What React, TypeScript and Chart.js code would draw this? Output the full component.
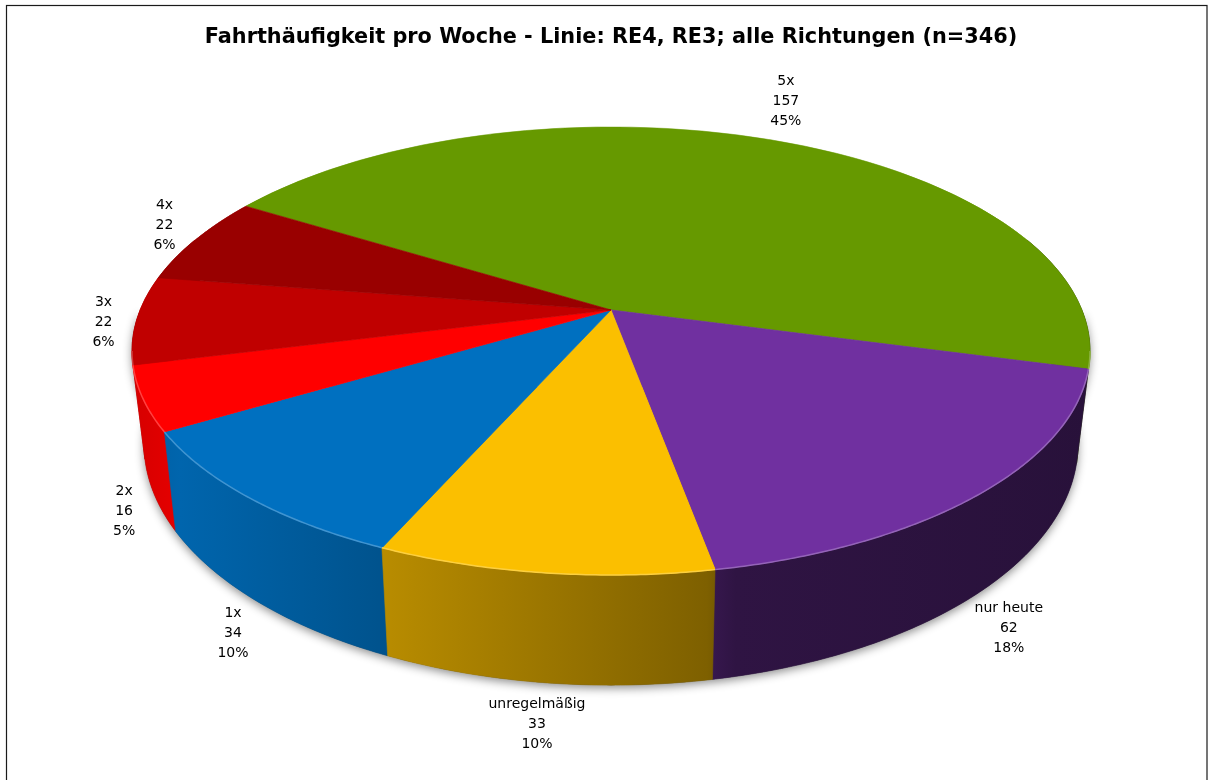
import React, { useEffect, useRef } from "react";
import { Chart, PieController, ArcElement, Title } from "chart.js";

Chart.register(PieController, ArcElement, Title);

const categories = ["5x", "nur heute", "unregelmäßig", "1x", "2x", "3x", "4x"];
const counts = [157, 62, 33, 34, 16, 22, 22];
const sliceColors = ["#669900", "#7030A0", "#FBBF00", "#0070C0", "#FF0000", "#C00000", "#990000"];
const chartTitle = "Fahrthäufigkeit pro Woche - Linie: RE4, RE3; alle Richtungen (n=346)";

// perspective projection of the pie plane (pixels)
const PA = 470.9; // horizontal half-size
const PB = 216.5; // vertical size
const PP = 0.183; // perspective strength
const PD = 90; // cylinder height
const PK = 0.025; // horizontal shrink of the base (vanishing)
const LABEL_GAP_X = 22;
const LABEL_GAP_Y = 12;
const LINE_H = 20;
// side-wall lighting: [relative x across the pie, brightness factor]
const wallStops: [number, number][] = [
  [0, 0.84], [0.05, 0.9], [0.27, 0.73], [0.6, 0.5], [0.63, 0.42], [1, 0.36],
];

function toRgb(hex: string) {
  const n = parseInt(hex.slice(1), 16);
  return [(n >> 16) & 255, (n >> 8) & 255, n & 255];
}
function shade(hex: string, f: number) {
  const [r, g, b] = toRgb(hex);
  return `rgb(${Math.round(r * f)},${Math.round(g * f)},${Math.round(b * f)})`;
}
function lighten(hex: string, f: number) {
  const [r, g, b] = toRgb(hex);
  return `rgb(${Math.round(r + (255 - r) * f)},${Math.round(g + (255 - g) * f)},${Math.round(b + (255 - b) * f)})`;
}

function projector(cx: number, cy: number) {
  return (u: number, v: number, drop = 0): [number, number] => {
    const w = 1 - PP * v;
    return [cx + ((PA * u) / w) * (1 - PK * drop), cy + (PB * v) / w + (drop * PD) / w];
  };
}

const pie3d = {
  id: "pie3d",
  beforeDraw(chart: any) {
    const ctx = chart.ctx;
    ctx.save();
    ctx.fillStyle = "#fff";
    ctx.fillRect(0, 0, chart.width, chart.height);
    ctx.strokeStyle = "#1a1a1a";
    ctx.lineWidth = 1.2;
    ctx.strokeRect(6.5, 5.5, 1200.5, 900);
    ctx.restore();
  },
  beforeDatasetsDraw(chart: any) {
    const ctx = chart.ctx;
    const arcs: any[] = chart.getDatasetMeta(0).data;
    if (!arcs.length) return false;
    const ex = arcs[0].x;
    const ey = arcs[0].y;
    const R = arcs[0].outerRadius;
    const cx = ex;
    const cy = ey;
    const proj = projector(cx, cy);
    const wallPath = (b0: number, b1: number) => {
      ctx.beginPath();
      const n = Math.max(2, Math.ceil((b1 - b0) / (Math.PI / 360)));
      for (let k = 0; k <= n; k++) {
        const a = b0 + ((b1 - b0) * k) / n;
        const [x, y] = proj(Math.cos(a), Math.sin(a));
        if (k === 0) ctx.moveTo(x, y);
        else ctx.lineTo(x, y);
      }
      for (let k = n; k >= 0; k--) {
        const a = b0 + ((b1 - b0) * k) / n;
        const [x, y] = proj(Math.cos(a), Math.sin(a), 1);
        ctx.lineTo(x, y);
      }
      ctx.closePath();
    };
    const lo = -0.35;
    const hi = Math.PI + 0.35;
    // soft shadow under the cylinder
    ctx.save();
    wallPath(0, Math.PI);
    ctx.shadowColor = "rgba(0,0,0,0.45)";
    ctx.shadowBlur = 10;
    ctx.shadowOffsetY = 3;
    ctx.fillStyle = "#444";
    ctx.fill();
    ctx.restore();
    // side walls, back to front
    const segs: { i: number; b0: number; b1: number }[] = [];
    arcs.forEach((arc, i) => {
      const b0 = Math.max(arc.startAngle, lo);
      const b1 = Math.min(arc.endAngle, hi);
      if (b1 > b0) segs.push({ i, b0, b1 });
    });
    segs.sort(
      (s1, s2) =>
        Math.abs((s2.b0 + s2.b1) / 2 - Math.PI / 2) - Math.abs((s1.b0 + s1.b1) / 2 - Math.PI / 2)
    );
    const half = PA / Math.sqrt(1 - PP * PP);
    segs.forEach(({ i, b0, b1 }) => {
      const grad = ctx.createLinearGradient(cx - half, 0, cx + half, 0);
      wallStops.forEach(([t, f]) => grad.addColorStop(t, shade(sliceColors[i], f)));
      ctx.save();
      wallPath(b0, b1);
      ctx.fillStyle = grad;
      ctx.fill();
      ctx.strokeStyle = grad;
      ctx.lineWidth = 0.6;
      ctx.stroke();
      ctx.restore();
    });
    // top faces: the library's arcs, drawn through thin bands of a perspective projection
    const yTop = Math.floor(cy - PB / (1 + PP)) - 2;
    const yBot = Math.ceil(cy + PB / (1 - PP)) + 2;
    for (let y = yTop; y < yBot; y++) {
      const eta = (y + 0.5 - cy) / PB;
      const vm = eta / (1 + PP * eta);
      const wm = 1 - PP * vm;
      const a = PA / (wm * R);
      const d = PB / (wm * wm * R);
      const e = cx - a * ex;
      const f = cy + (PB * vm) / wm - (PB * vm) / (wm * wm) - d * ey;
      ctx.save();
      ctx.beginPath();
      ctx.rect(0, y, chart.width, 1);
      ctx.clip();
      ctx.transform(a, 0, 0, d, e, f);
      arcs.forEach((arc) => arc.draw(ctx, chart.chartArea));
      ctx.restore();
    }
    // light highlight along the front rim
    const sil = Math.asin(PP);
    arcs.forEach((arc, i) => {
      const b0 = Math.max(arc.startAngle, sil);
      const b1 = Math.min(arc.endAngle, Math.PI - sil);
      if (b1 <= b0) return;
      ctx.save();
      ctx.beginPath();
      const n = Math.max(2, Math.ceil((b1 - b0) / (Math.PI / 360)));
      for (let k = 0; k <= n; k++) {
        const t = b0 + ((b1 - b0) * k) / n;
        const [x, yy] = proj(Math.cos(t), Math.sin(t));
        if (k === 0) ctx.moveTo(x, yy);
        else ctx.lineTo(x, yy);
      }
      ctx.strokeStyle = lighten(sliceColors[i], 0.25);
      ctx.lineWidth = 1.5;
      ctx.stroke();
      ctx.restore();
    });
    return false;
  },
  afterDraw(chart: any) {
    const ctx = chart.ctx;
    const arcs: any[] = chart.getDatasetMeta(0).data;
    if (!arcs.length) return;
    const proj = projector(arcs[0].x, arcs[0].y);
    const total = counts.reduce((a, b) => a + b, 0);
    ctx.save();
    ctx.font = "14px 'DejaVu Sans'";
    ctx.fillStyle = "#000";
    ctx.textAlign = "center";
    ctx.textBaseline = "middle";
    arcs.forEach((arc, i) => {
      const mid = (arc.startAngle + arc.endAngle) / 2;
      const c = Math.cos(mid);
      const s = Math.sin(mid);
      const lines = [categories[i], String(counts[i]), Math.round((counts[i] / total) * 100) + "%"];
      const w = Math.max(...lines.map((l) => ctx.measureText(l).width));
      const h = LINE_H * 3;
      const drop = Math.min(1, Math.max(0, (s - 0.05) * 4));
      const [px, py] = proj(c, s, drop);
      const x = px + c * (w / 2 + LABEL_GAP_X);
      const y = py + s * (h / 2 + LABEL_GAP_Y);
      lines.forEach((l, k) => ctx.fillText(l, x, y + (k - 1) * LINE_H));
    });
    ctx.restore();
  },
};

export default function App() {
  const ref = useRef<HTMLCanvasElement | null>(null);
  useEffect(() => {
    if (!ref.current) return;
    const chart = new Chart(ref.current, {
      type: "pie",
      data: {
        labels: categories,
        datasets: [
          {
            data: counts,
            backgroundColor: sliceColors,
            borderColor: sliceColors,
            borderWidth: 0.5,
          },
        ],
      },
      options: {
        responsive: false,
        animation: false,
        rotation: -58.3,
        layout: { padding: { left: 10, right: 0, top: 0, bottom: 219 } },
        plugins: {
          title: {
            display: true,
            text: chartTitle,
            color: "#000",
            font: { family: "'DejaVu Sans'", size: 20.8, weight: "bold", lineHeight: 1.2 },
            padding: { top: 25, bottom: 9 },
          },
        },
        events: [],
      },
      plugins: [pie3d],
    });
    return () => chart.destroy();
  }, []);
  return (
    <div style={{ position: "fixed", left: 0, top: 0, width: 1212, height: 780, background: "#fff" }}>
      <canvas ref={ref} width={1212} height={780} style={{ display: "block" }} />
    </div>
  );
}
